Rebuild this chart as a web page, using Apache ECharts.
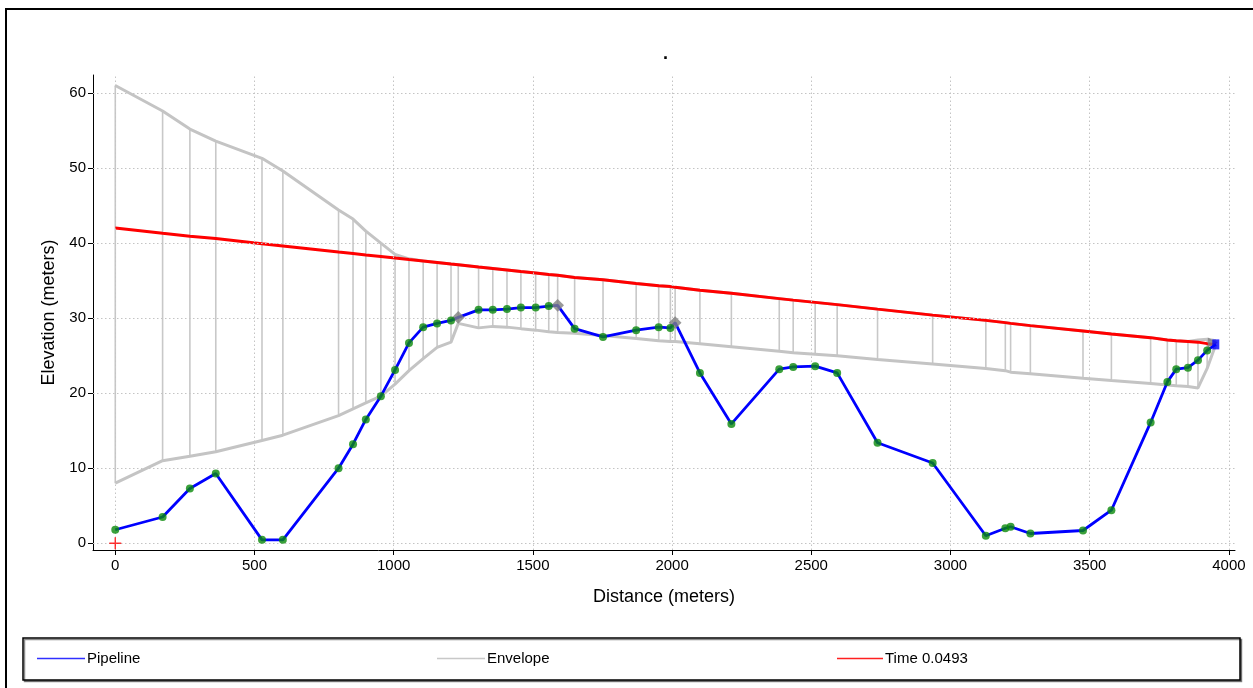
<!DOCTYPE html>
<html>
<head>
<meta charset="utf-8">
<script src="https://cdn.jsdelivr.net/npm/echarts@6/dist/echarts.min.js"></script>
<style>
html,body{margin:0;padding:0;background:#fff;}
#chart{width:1253px;height:688px;}
</style>
</head>
<body>
<div id="chart"></div>
<script>
// ---- data ----
const distance = [0,170,268,361,527,602,802,854,900,954,1005,1055,1106,1156,1206,1232,1305,1356,1407,1457,1510,1557,1589,1650,1752,1871,1952,1994,2011,2100,2213,2385,2435,2514,2593,2738,2936,3127,3197,3216,3287,3476,3578,3719,3779,3811,3853,3889,3922,3953];
const elevation = [1.8,3.5,7.3,9.3,0.45,0.45,10.0,13.2,16.5,19.6,23.1,26.7,28.8,29.3,29.7,30.1,31.1,31.1,31.2,31.4,31.4,31.6,31.7,28.6,27.5,28.4,28.8,28.7,29.4,22.7,15.9,23.2,23.5,23.6,22.7,13.4,10.7,1.0,2.0,2.2,1.3,1.7,4.4,16.1,21.5,23.2,23.4,24.4,25.7,26.5];
const nodeType = ['j','j','j','j','j','j','j','j','j','j','j','j','j','j','j','v','j','j','j','j','j','j','v','j','j','j','j','j','v','j','j','j','j','j','j','j','j','j','j','j','j','j','j','j','j','j','j','j','j','r'];
const hgl = [42.0,41.3,40.9,40.6,39.9,39.6,38.8,38.6,38.4,38.2,38.0,37.8,37.6,37.4,37.2,37.1,36.8,36.6,36.4,36.2,36.0,35.8,35.7,35.4,35.1,34.6,34.3,34.2,34.1,33.7,33.3,32.6,32.4,32.1,31.8,31.2,30.4,29.7,29.4,29.3,29.0,28.3,27.9,27.4,27.1,27.0,26.9,26.8,26.6,26.5];
const envMax = [61.0,57.6,55.2,53.6,51.3,49.6,44.4,43.2,41.6,40.0,38.5,37.9,37.6,37.4,37.2,37.1,36.8,36.6,36.4,36.2,36.0,35.8,35.7,35.4,35.1,34.6,34.3,34.2,34.1,33.7,33.3,32.6,32.4,32.1,31.8,31.2,30.4,29.7,29.4,29.3,29.0,28.3,27.9,27.4,27.1,27.0,26.9,27.1,27.2,27.0];
const envMin = [8.0,11.0,11.6,12.2,13.7,14.4,17.0,17.9,18.7,19.6,21.2,23.0,24.6,26.1,26.8,29.3,28.7,28.9,28.8,28.6,28.4,28.2,28.1,28.0,27.7,27.3,27.0,26.9,26.9,26.6,26.2,25.6,25.4,25.2,25.0,24.5,23.9,23.3,23.0,22.8,22.6,22.0,21.7,21.3,21.1,21.0,20.9,20.7,23.3,26.5];
const xTicks = [0,500,1000,1500,2000,2500,3000,3500,4000];
const yTicks = [0,10,20,30,40,50,60];
const timeLabel = 'Time 0.0493';

const FONT = "'Liberation Sans', Arial, sans-serif";

const pipeData = distance.map((d,i)=>[d, elevation[i]]);
const typed = distance.map((d,i)=>[d, elevation[i], nodeType[i]]);
const junctionData = typed.filter(p=>p[2]==='j').map(p=>[p[0],p[1]]);
const valveData = typed.filter(p=>p[2]==='v').map(p=>[p[0],p[1]]);
const resData = typed.filter(p=>p[2]==='r').map(p=>[p[0],p[1]]);
const hglData = distance.map((d,i)=>[d, hgl[i]]);
const maxData = distance.map((d,i)=>[d, envMax[i]]);
const minData = distance.map((d,i)=>[d, envMin[i]]);
const vertData = distance.map((d,i)=>[d, envMax[i], envMin[i]]);

const chart = echarts.init(document.getElementById('chart'), null, {renderer:'canvas'});
const gridMarks = xTicks.map(v=>({xAxis:v})).concat(yTicks.map(v=>({yAxis:v})));
const legendText = {fontFamily:FONT, fontSize:15, color:'#000', padding:[0,0,0,-3]};

const option = {
  backgroundColor:'#ffffff',
  animation:false,
  title:{text:'.', left:658, top:40, textStyle:{fontFamily:FONT, fontSize:18, fontWeight:'bold', color:'#000'}},
  grid:{left:93, right:18, top:75, bottom:138, containLabel:false},
  xAxis:{
    type:'value', min:-80, max:4022,
    name:'Distance (meters)', nameLocation:'middle', nameGap:38,
    nameTextStyle:{fontFamily:FONT, fontSize:18, color:'#000'},
    axisLine:{show:true, onZero:false, lineStyle:{color:'#000', width:1}},
    axisTick:{show:true, length:5, customValues:xTicks, lineStyle:{color:'#000'}},
    axisLabel:{customValues:xTicks, formatter:v=>String(v), fontFamily:FONT, fontSize:15, color:'#000', margin:8},
    splitLine:{show:false}
  },
  yAxis:{
    type:'value', min:-0.9, max:62.4,
    name:'Elevation (meters)', nameLocation:'middle', nameGap:28,
    nameTextStyle:{fontFamily:FONT, fontSize:18, color:'#000'},
    axisLine:{show:true, onZero:false, lineStyle:{color:'#000', width:1}},
    axisTick:{show:true, length:5, customValues:yTicks, lineStyle:{color:'#000'}},
    axisLabel:{customValues:yTicks, formatter:v=>String(v), fontFamily:FONT, fontSize:15, color:'#000', margin:7},
    splitLine:{show:false}
  },
  legend:[
    {left:32, top:646, icon:'rect', itemWidth:48, itemHeight:1.5, itemGap:0, textStyle:legendText,
     data:[{name:'Pipeline', itemStyle:{color:'#3030ff'}}]},
    {left:432, top:646, icon:'rect', itemWidth:48, itemHeight:1.5, itemGap:0, textStyle:legendText,
     data:[{name:'Envelope', itemStyle:{color:'#c8c8c8'}}]},
    {left:832, top:646, icon:'rect', itemWidth:46, itemHeight:1.5, itemGap:0, textStyle:legendText,
     data:[{name:timeLabel, itemStyle:{color:'#ff2020'}}]}
  ],
  graphic:[
    {type:'rect', z:-10, silent:true, shape:{x:6, y:9, width:1260, height:700},
     style:{fill:'none', stroke:'#000', lineWidth:2}},
    {type:'rect', z:-5, silent:true, shape:{x:23, y:638, width:1217, height:42},
     style:{fill:'#fff', stroke:'#000', lineWidth:1.5, shadowColor:'rgba(0,0,0,0.45)', shadowOffsetX:1.5, shadowOffsetY:1.5, shadowBlur:0}}
  ],
  series:[
    {type:'line', name:'grid', data:[], silent:true, z:0,
     markLine:{silent:true, symbol:'none', label:{show:false}, animation:false,
       lineStyle:{color:'#c4c4c4', type:[1.5,2.5], width:1}, data:gridMarks}},
    {type:'custom', name:'Envelope', z:2, silent:true, data:vertData, encode:{x:0, y:[1,2]},
     renderItem:function(params, api){
       const a = api.coord([api.value(0), api.value(1)]);
       const b = api.coord([api.value(0), api.value(2)]);
       return {type:'line', shape:{x1:a[0], y1:a[1], x2:b[0], y2:b[1]}, style:{stroke:'#c8c8c8', lineWidth:1.6}};
     }},
    {type:'line', name:'Envelope', z:3, data:maxData, showSymbol:false, symbol:'none', lineStyle:{color:'#c4c4c4', width:3}},
    {type:'line', name:'Envelope', z:3, data:minData, showSymbol:false, symbol:'none', lineStyle:{color:'#c4c4c4', width:3}},
    {type:'line', name:timeLabel, z:4, data:hglData, showSymbol:false, symbol:'none', lineStyle:{color:'#ff0000', width:3}},
    {type:'line', name:'Pipeline', z:6, data:pipeData, showSymbol:false, symbol:'none', lineStyle:{color:'#0000ff', width:2.8}},
    {type:'scatter', name:'valve', z:7, data:valveData, symbol:'rect', symbolRotate:45, symbolSize:9, itemStyle:{color:'#7f7f7f'}},
    {type:'scatter', name:'junction', z:8, data:junctionData, symbol:'circle', symbolSize:8, itemStyle:{color:'#0a8a0a'}},
    {type:'scatter', name:'arrow', z:7, data:resData, symbol:'triangle', symbolRotate:-90, symbolSize:10, symbolOffset:[-3,-2], itemStyle:{color:'#808080'}},
    {type:'scatter', name:'reservoir', z:8, data:resData, symbol:'rect', symbolSize:[7,10], itemStyle:{color:'#0000ff'}},
    {type:'scatter', name:'start', z:8, data:[[0,0]], symbol:'path://M4.4,0h1.2v10h-1.2z M0,4.4h10v1.2h-10z', symbolSize:12, itemStyle:{color:'#ff0000'}}
  ]
};
chart.setOption(option);
</script>
</body>
</html>
